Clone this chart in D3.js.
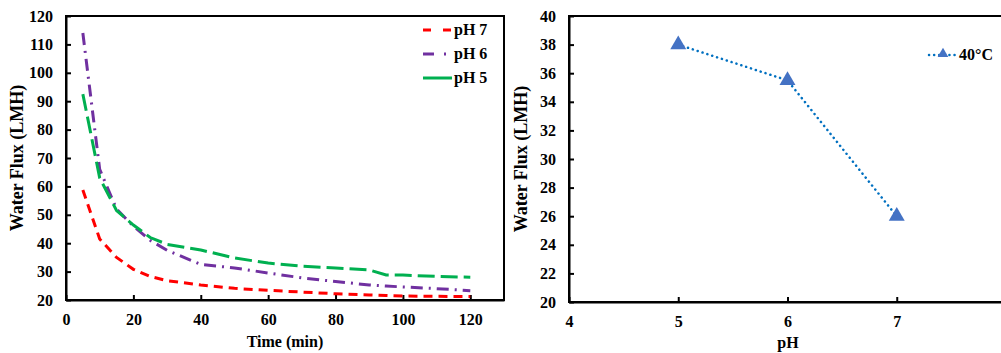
<!DOCTYPE html>
<head>
  <meta charset="utf-8">
  <script src="https://d3js.org/d3.v7.min.js"></script>
  <style>
    body { margin: 0; background: #fff; }
    svg { display: block; }
    text { font-family: "Liberation Serif", "Times New Roman", serif; font-weight: bold; fill: #000; }
  </style>
</head>
<body>
  <svg width="1001" height="353"></svg>
  <script>
    // data - left panel (flux vs time)
    var time = [5, 10, 15, 20, 25, 30, 40, 50, 60, 70, 80, 90, 95, 100, 110, 120];
    var ph7 = [58.7, 41.5, 35, 30.8, 28.3, 26.8, 25.3, 24.1, 23.4, 22.8, 22.2, 21.8, 21.6, 21.4, 21.3, 21.2];
    var ph6 = [114, 66, 52, 46, 41, 37.5, 32.5, 31.3, 29.5, 27.8, 26.5, 25.3, 24.9, 24.6, 24.0, 23.3];
    var ph5 = [92.5, 63, 51.5, 46.4, 42, 39.6, 37.6, 34.8, 33, 31.9, 31.3, 30.6, 28.8, 28.8, 28.3, 28.0];
    var seriesNames = ["pH 7", "pH 6", "pH 5"];
    var xTicksL = [0, 20, 40, 60, 80, 100, 120];
    var yTicksL = [20, 30, 40, 50, 60, 70, 80, 90, 100, 110, 120];

    // data - right panel (flux vs pH)
    var phVals = [5, 6, 7];
    var flux40 = [38, 35.5, 26];
    var xTicksR = [4, 5, 6, 7];
    var yTicksR = [20, 22, 24, 26, 28, 30, 32, 34, 36, 38, 40];

    var svg = d3.select('svg');

    function styleAxis(a) {
      a.select('.domain').attr('stroke-width', 2);
      a.selectAll('line').attr('stroke-width', 2);
      a.selectAll('text').style('font-size', '16px').style('font-family', '"Liberation Serif", serif').style('font-weight', 'bold');
    }

    // ---------- left chart
    var xL = d3.scaleLinear().domain([0, 130]).range([66, 504]);
    var yL = d3.scaleLinear().domain([20, 120]).range([300, 16]);

    var gl = svg.append('g');
    gl.append('rect').attr('x', 66).attr('y', 16).attr('width', 438).attr('height', 284)
      .attr('fill', 'none').attr('stroke', '#000').attr('stroke-width', 2);

    var axX = gl.append('g').attr('transform', 'translate(0,300)')
      .call(d3.axisBottom(xL).tickValues(xTicksL).tickSizeInner(-5).tickSizeOuter(0).tickPadding(14));
    var axY = gl.append('g').attr('transform', 'translate(66,0)')
      .call(d3.axisLeft(yL).tickValues(yTicksL).tickSizeInner(-5).tickSizeOuter(0).tickPadding(13));
    styleAxis(axX);
    styleAxis(axY);

    var styles = [
      {color: '#FF0000', dash: '9,6'},
      {color: '#7030A0', dash: '12,6,2,6'},
      {color: '#00B050', dash: '17,6'}
    ];
    var lineL = d3.line().x(function(d) { return xL(d[0]); }).y(function(d) { return yL(d[1]); });
    [ph7, ph6, ph5].forEach(function(s, i) {
      gl.append('path').datum(time.map(function(t, j) { return [t, s[j]]; }))
        .attr('d', lineL).attr('fill', 'none')
        .attr('stroke', styles[i].color).attr('stroke-width', 3)
        .attr('stroke-dasharray', styles[i].dash);
    });

    // legend
    seriesNames.forEach(function(n, i) {
      var y = 30 + i * 24;
      gl.append('line').attr('x1', 423).attr('x2', 452).attr('y1', y).attr('y2', y)
        .attr('stroke', styles[i].color).attr('stroke-width', 3)
        .attr('stroke-dasharray', i == 0 ? '8,12' : (i == 1 ? '11,10,2,9' : null));
      gl.append('text').attr('x', 454).attr('y', y + 5).style('font-size', '16px').text(n);
    });

    gl.append('text').attr('x', 285).attr('y', 347).attr('text-anchor', 'middle')
      .style('font-size', '16px').text('Time (min)');
    gl.append('text').attr('transform', 'translate(23,158) rotate(-90)').attr('text-anchor', 'middle')
      .style('font-size', '18px').text('Water Flux (LMH)');

    // ---------- right chart
    var xR = d3.scaleLinear().domain([4, 8]).range([569, 1006]);
    var yR = d3.scaleLinear().domain([20, 40]).range([302, 16]);

    var gr = svg.append('g');
    gr.append('rect').attr('x', 569).attr('y', 16).attr('width', 437).attr('height', 286)
      .attr('fill', 'none').attr('stroke', '#000').attr('stroke-width', 2);

    var axXR = gr.append('g').attr('transform', 'translate(0,302)')
      .call(d3.axisBottom(xR).tickValues(xTicksR).tickFormat(d3.format('d')).tickSizeInner(-5).tickSizeOuter(0).tickPadding(14));
    var axYR = gr.append('g').attr('transform', 'translate(569,0)')
      .call(d3.axisLeft(yR).tickValues(yTicksR).tickSizeInner(-5).tickSizeOuter(0).tickPadding(13));
    styleAxis(axXR);
    styleAxis(axYR);

    var lineR = d3.line().x(function(d) { return xR(d[0]); }).y(function(d) { return yR(d[1]); });
    var ptsR = phVals.map(function(p, i) { return [p, flux40[i]]; });
    gr.append('path').datum(ptsR).attr('d', lineR).attr('fill', 'none')
      .attr('stroke', '#0070C0').attr('stroke-width', 2.5)
      .attr('stroke-linecap', 'round').attr('stroke-dasharray', '0.1,5');
    var tri = d3.symbol().type(d3.symbolTriangle).size(110);
    gr.selectAll('.mk').data(ptsR).enter().append('path')
      .attr('transform', function(d) { return 'translate(' + xR(d[0]) + ',' + yR(d[1]) + ')'; })
      .attr('d', tri).attr('fill', '#4472C4');

    gr.append('line').attr('x1', 929).attr('x2', 957).attr('y1', 55).attr('y2', 55)
      .attr('stroke', '#0070C0').attr('stroke-width', 2.5)
      .attr('stroke-linecap', 'round').attr('stroke-dasharray', '0.1,5');
    gr.append('path').attr('transform', 'translate(943,54)')
      .attr('d', d3.symbol().type(d3.symbolTriangle).size(50)).attr('fill', '#4472C4');
    gr.append('text').attr('x', 959).attr('y', 60).style('font-size', '16px').text('40°C');

    gr.append('text').attr('x', 788).attr('y', 348).attr('text-anchor', 'middle')
      .style('font-size', '16px').text('pH');
    gr.append('text').attr('transform', 'translate(527,159) rotate(-90)').attr('text-anchor', 'middle')
      .style('font-size', '18px').text('Water Flux (LMH)');
  </script>
</body>
